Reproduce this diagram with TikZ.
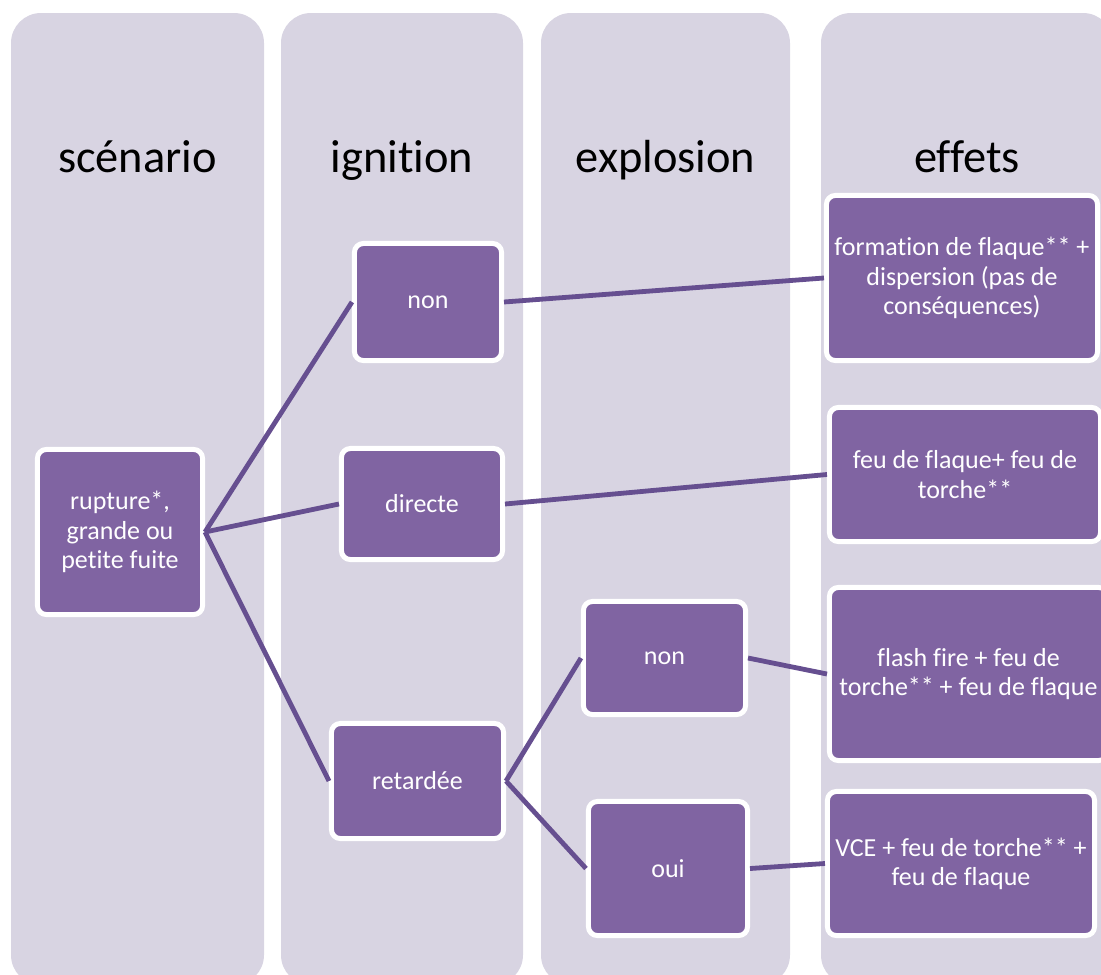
\documentclass[tikz,border=0pt]{standalone}
\usepackage{fontspec}
\setmainfont{Carlito}[Ligatures=NoCommon]
\usepackage{xcolor}
\definecolor{lane}{HTML}{D8D4E2}
\definecolor{boxfill}{HTML}{8064A2}
\definecolor{linkcol}{HTML}{664F90}
\usepackage{tikz}
\usetikzlibrary{positioning}

\begin{document}
\begin{tikzpicture}[
  x=0.025cm, y=-0.025cm,
  lanebg/.style={fill=lane, rounded corners=0.75cm},
  head/.style={anchor=base, font=\fontsize{33}{40}\selectfont, text=black},
  event/.style={rectangle, rounded corners=0.22cm, draw=white, line width=0.125cm, fill=boxfill, text=white, align=center, inner sep=1pt, font=\fontsize{18.5}{20.8}\selectfont},
  link/.style={line width=0.12cm, linkcol},
]
\useasboundingbox (0,0) rectangle (1101,975);

% lanes
\fill[lanebg] (11,13) rectangle (264,985);
\fill[lanebg] (281,13) rectangle (523,985);
\fill[lanebg] (541,13) rectangle (790,985);
\fill[lanebg] (821,13) rectangle (1113,985);

\node[head] (hscen) at (137.5,172) {scénario};
\node[head] (hign) at (402,172) {ignition};
\node[head] (hexpl) at (665.5,172) {explosion};
\node[head] (heff) at (967,172) {effets};

\node[event, minimum width=4.125cm, minimum height=4.125cm] (rupt) at (120,532) {rupture*,\\grande ou\\petite fuite};

\node[event, minimum width=3.675cm, minimum height=2.925cm] (ignnon) at (428,302) {non};
\node[event, minimum width=4.025cm, minimum height=2.775cm] (igndir) at (422,504) {directe};
\node[event, minimum width=4.3cm, minimum height=2.875cm] (ignret) at (417.5,781) {retardée};

\node[event, minimum width=4.05cm, minimum height=2.825cm] (explnon) at (664.5,658) {non};
\node[event, minimum width=3.975cm, minimum height=3.35cm] (exploui) at (668,868.5) {oui};

\node[event, minimum width=6.775cm, minimum height=4.125cm] (effa) at (962,278) {formation de flaque** +\\dispersion (pas de\\conséquences)};
\node[event, minimum width=6.775cm, minimum height=3.35cm] (effb) at (965,474.5) {feu de flaque+ feu de\\torche**};
\node[event, minimum width=6.95cm, minimum height=4.325cm] (effc) at (968.5,674) {flash fire + feu de\\torche** + feu de flaque};
\node[event, minimum width=6.675cm, minimum height=3.6cm] (effd) at (961,863.5) {VCE + feu de torche** +\\feu de flaque};

\draw[link] (rupt.east) -- (ignnon.west);
\draw[link] (rupt.east) -- (igndir.west);
\draw[link] (rupt.east) -- (ignret.west);
\draw[link] (ignnon.east) -- (effa.west);
\draw[link] (igndir.east) -- (effb.west);
\draw[link] (ignret.east) -- (explnon.west);
\draw[link] (ignret.east) -- (exploui.west);
\draw[link] (explnon.east) -- (effc.west);
\draw[link] (exploui.east) -- (effd.west);

\end{tikzpicture}
\end{document}
